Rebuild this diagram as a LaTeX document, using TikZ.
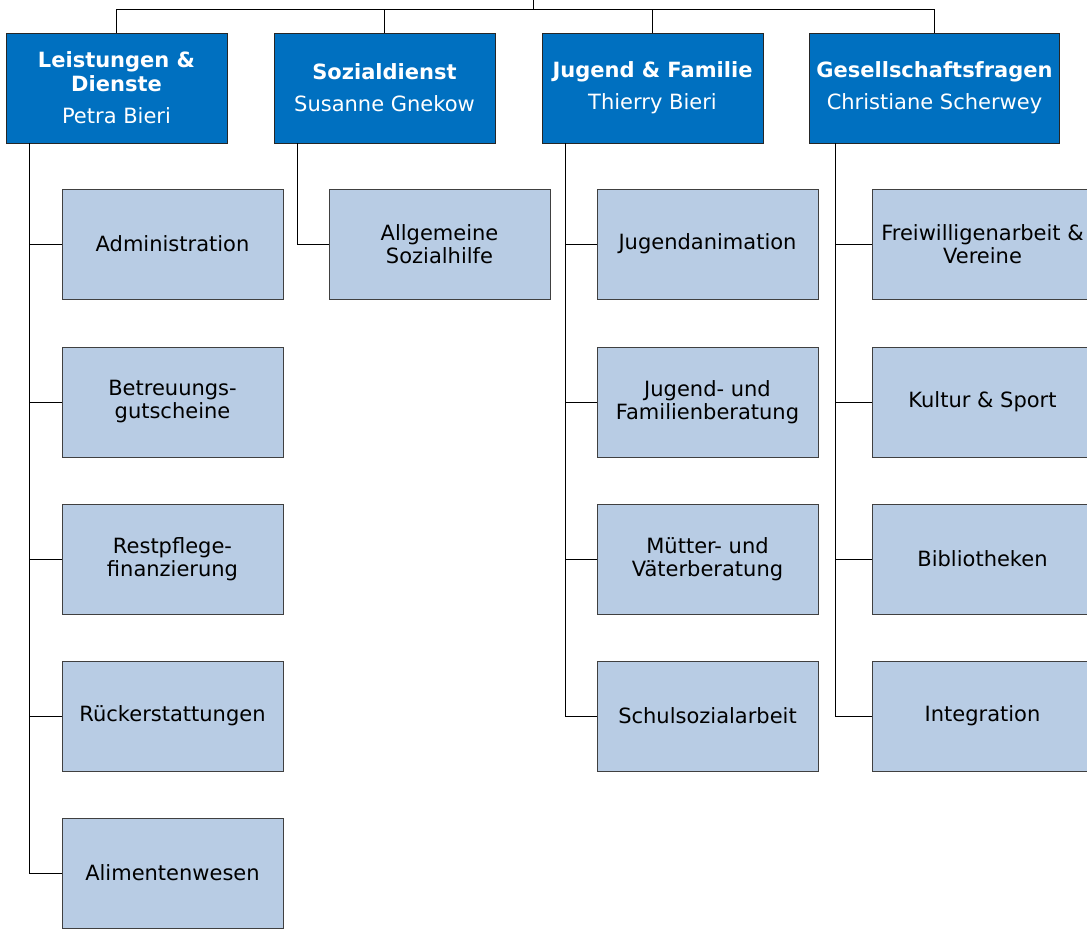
\documentclass[tikz,border=0pt]{standalone}
\usepackage{fontspec}
\setmainfont{DejaVu Sans}
\definecolor{headblue}{HTML}{0070C0}
\definecolor{subblue}{HTML}{B8CCE4}
\begin{document}
\begin{tikzpicture}[x=1pt,y=-1pt,
  head/.style={draw=black!85,line width=0.9pt,fill=headblue,text=white,minimum width=221pt,minimum height=110pt,align=center,inner sep=0pt,font=\fontsize{21}{24}\selectfont},
  sub/.style={draw=black!75,line width=0.9pt,fill=subblue,text=black,minimum width=221pt,minimum height=110pt,align=center,inner sep=0pt,font=\fontsize{21}{23}\selectfont},
  conn/.style={line width=1pt,draw=black}]
\useasboundingbox (0,0) rectangle (1087,929);
% top boxes
\node[head] (h1) at (116.5,88) {\textbf{Leistungen \&}\\\textbf{Dienste}\\[8pt]Petra Bieri};
\node[head] (h2) at (384.5,88) {\textbf{Sozialdienst}\\[8pt]Susanne Gnekow};
\node[head] (h3) at (652.5,88) {\textbf{Jugend \& Familie}\\[8pt]Thierry Bieri};
\node[head,minimum width=250pt] (h4) at (934.5,88) {\textbf{Gesellschaftsfragen}\\[8pt]Christiane Scherwey};
% top connectors
\coordinate (top) at (533,0);
\coordinate (bar) at (533,9);
\draw[conn] (top) -- (bar);
\draw[conn] (h1.north) |- (h4.north |- bar) -- (h4.north);
\draw[conn] (h2.north) -- (h2.north |- bar);
\draw[conn] (h3.north) -- (h3.north |- bar);
% column 1
\node[sub] (a1) at (172.5,244) {Administration};
\node[sub] (a2) at (172.5,402) {Betreuungs-\\gutscheine};
\node[sub] (a3) at (172.5,559) {Restpflege-\\finanzierung};
\node[sub] (a4) at (172.5,716) {Rückerstattungen};
\node[sub] (a5) at (172.5,873) {Alimentenwesen};
% column 2
\node[sub] (b1) at (439.5,244) {Allgemeine\\Sozialhilfe};
% column 3
\node[sub] (c1) at (707.5,244) {Jugendanimation};
\node[sub] (c2) at (707.5,402) {Jugend- und\\Familienberatung};
\node[sub] (c3) at (707.5,559) {Mütter- und\\Väterberatung};
\node[sub] (c4) at (707.5,716) {Schulsozialarbeit};
% column 4
\node[sub] (d1) at (982.5,244) {Freiwilligenarbeit \&\\Vereine};
\node[sub] (d2) at (982.5,402) {Kultur \& Sport};
\node[sub] (d3) at (982.5,559) {Bibliotheken};
\node[sub] (d4) at (982.5,716) {Integration};
% trunks
\coordinate (t1) at (29,143);
\coordinate (t2) at (297,143);
\coordinate (t3) at (565,143);
\coordinate (t4) at (835,143);
\draw[conn] (t1) |- (a5.west);
\foreach \n in {a1,a2,a3,a4} \draw[conn] (t1 |- \n.west) -- (\n.west);
\draw[conn] (t2) |- (b1.west);
\draw[conn] (t3) |- (c4.west);
\foreach \n in {c1,c2,c3} \draw[conn] (t3 |- \n.west) -- (\n.west);
\draw[conn] (t4) |- (d4.west);
\foreach \n in {d1,d2,d3} \draw[conn] (t4 |- \n.west) -- (\n.west);
\end{tikzpicture}
\end{document}
